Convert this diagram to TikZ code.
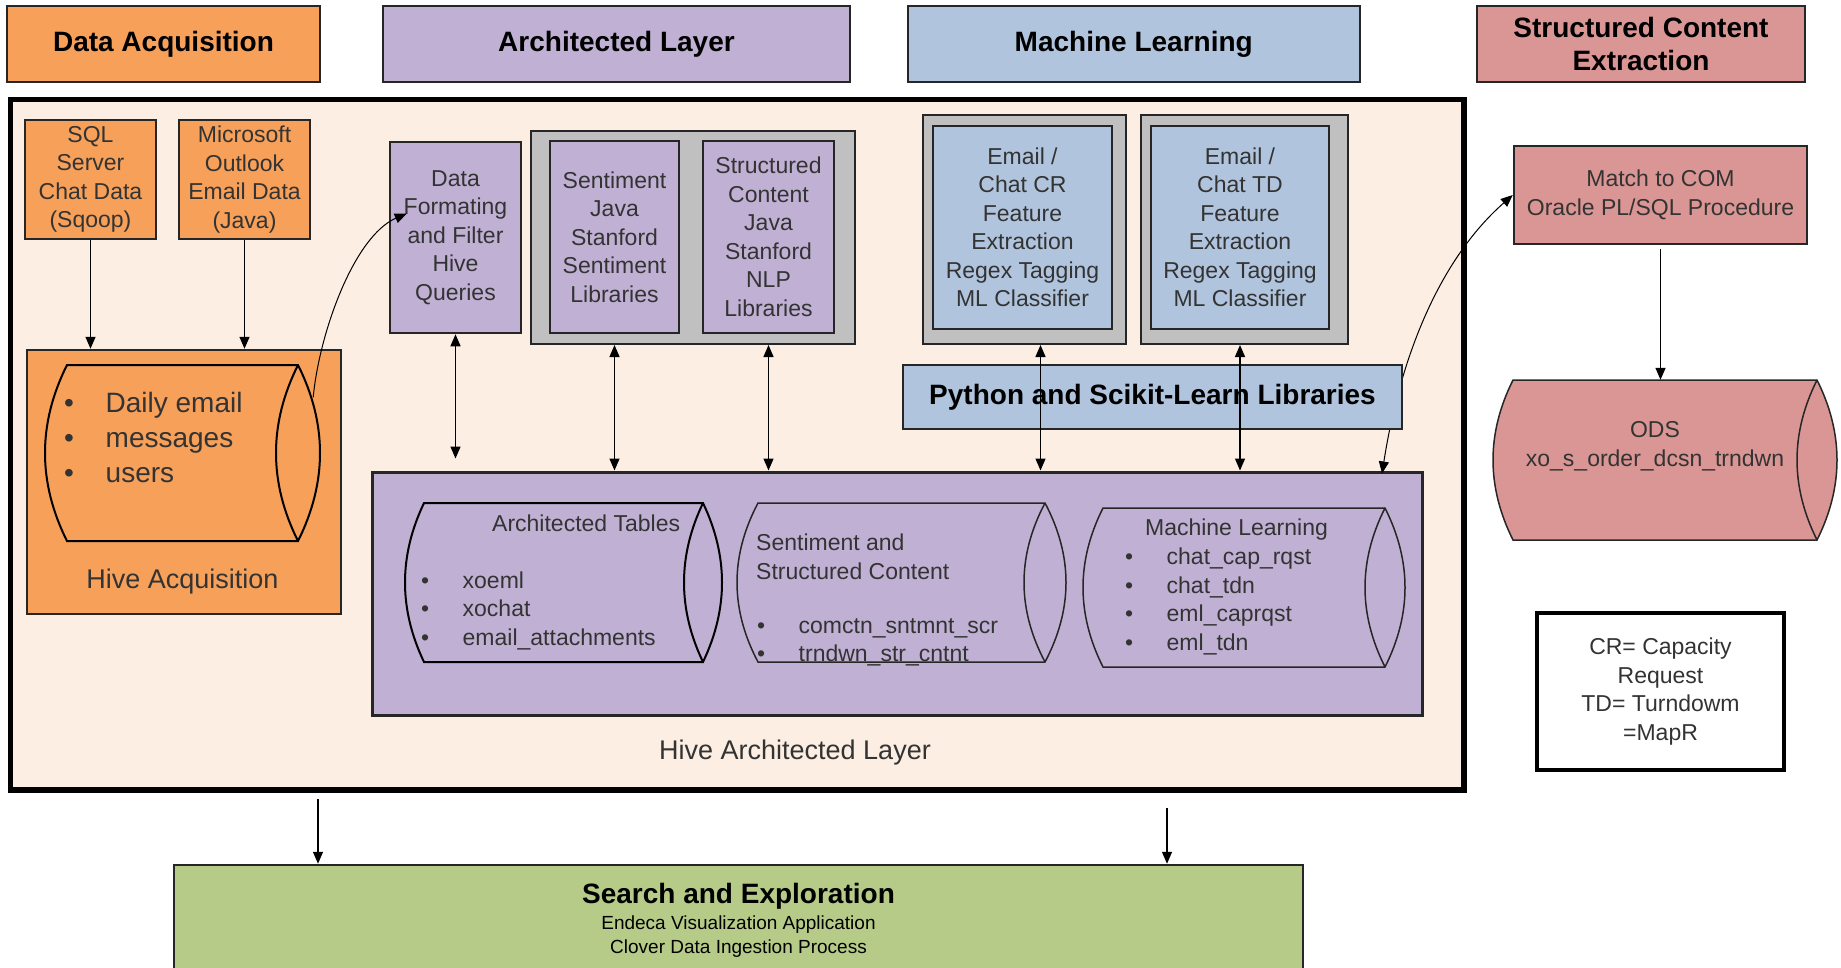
\documentclass[tikz,border=0pt]{standalone}
\usepackage{fontspec}
\setmainfont{Liberation Sans}
\usetikzlibrary{arrows.meta}

\definecolor{acqorange}{HTML}{F6A05A}
\definecolor{archpurple}{HTML}{C0B1D4}
\definecolor{mlblue}{HTML}{B1C4DD}
\definecolor{scered}{HTML}{DA9694}
\definecolor{searchgreen}{HTML}{B7CB88}
\definecolor{layerpeach}{HTML}{FDEEE3}
\definecolor{libgray}{HTML}{C0C0C0}

\newcommand{\itm}[1]{\makebox[41.5pt][l]{\textbullet}#1}

% storage drum: name, x, y, width, height, cap depth, options
\newcommand{\drum}[7]{%
  \node[shape = rectangle, inner sep = 0pt, minimum width = #4pt, minimum height = #5pt] (#1) at (#2, #3) {};
  \begin{scope}[shift = {(#2, #3)}, y = 1pt]
    \filldraw[#7] ({-#4/2+#6}, #5/2) -- ({#4/2-#6}, #5/2)
      .. controls ({#4/2+#6/3}, #5/6) and ({#4/2+#6/3}, -#5/6) .. ({#4/2-#6}, -#5/2)
      -- ({-#4/2+#6}, -#5/2)
      .. controls ({-#4/2-#6/3}, -#5/6) and ({-#4/2-#6/3}, #5/6) .. cycle;
    \draw[#7, fill = none] ({#4/2-#6}, #5/2)
      .. controls ({#4/2-7*#6/3}, #5/6) and ({#4/2-7*#6/3}, -#5/6) .. ({#4/2-#6}, -#5/2);
  \end{scope}}

\begin{document}
\begin{tikzpicture}[
    x = 1pt, y = -1pt,
    header/.style = {shape = rectangle, draw = black!85, line width = 2pt, inner sep = 0pt, font = \fontsize{28}{33}\selectfont\bfseries, align = center},
    box/.style = {shape = rectangle, draw = black!85, line width = 2.5pt, inner sep = 0pt, text = black!80, font = \fontsize{23}{28.5}\selectfont, align = center},
    group/.style = {shape = rectangle, draw = black!85, fill = libgray, line width = 2pt, inner sep = 0pt},
    txt/.style = {inner sep = 0pt, text = black!80, font = \fontsize{23}{28.5}\selectfont, align = left},
    arr/.style = {-{Triangle[width = 10pt, length = 12pt]}, line width = 1.4pt},
    darr/.style = {{Triangle[width = 10pt, length = 12pt]}-{Triangle[width = 10pt, length = 12pt]}, line width = 1.4pt},
    ]
    \useasboundingbox (0, 0) rectangle (1841, 967);

    % big platform frame
    \node[shape = rectangle, draw = black, fill = layerpeach, line width = 5.5pt, minimum width = 1453.5pt, minimum height = 690.5pt] (platform) at (737.25, 444.75) {};

    % column headers
    \node[header, fill = acqorange, minimum width = 313pt, minimum height = 76pt] (hdracq) at (163.5, 44) {Data Acquisition};
    \node[header, fill = archpurple, minimum width = 467pt, minimum height = 76pt] (hdrarch) at (616.5, 44) {Architected Layer};
    \node[header, fill = mlblue, minimum width = 451.5pt, minimum height = 76pt] (hdrml) at (1133.75, 44) {Machine Learning};
    \node[header, fill = scered, minimum width = 328pt, minimum height = 76pt] (hdrsce) at (1641, 44) {Structured Content\\Extraction};

    % acquisition
    \node[box, fill = acqorange, minimum width = 131pt, minimum height = 119pt] (sql) at (90.5, 179.5) {SQL\\Server\\Chat Data\\(Sqoop)};
    \node[box, fill = acqorange, minimum width = 131pt, minimum height = 119pt] (outlook) at (244.5, 179.5) {Microsoft\\Outlook\\Email Data\\(Java)};
    \node[box, fill = acqorange, minimum width = 314pt, minimum height = 264pt] (hiveacq) at (184, 482) {};
    \drum{hivecyl}{182.5}{453}{275}{176}{22}{draw = black, fill = acqorange, line width = 2pt}
    \node[txt, anchor = west, font = \fontsize{28}{35}\selectfont] (hivelist) at (64, 437.5) {\itm{Daily email}\\\itm{messages}\\\itm{users}};
    \node[txt, font = \fontsize{27}{32}\selectfont] (hiveacqlbl) at (182.5, 582) {Hive Acquisition};

    \path[arr] (sql.south) edge (sql.south |- hiveacq.north);
    \path[arr] (outlook.south) edge (outlook.south |- hiveacq.north);

    % architected layer libraries
    \node[box, fill = archpurple, minimum width = 131pt, minimum height = 191pt] (dataformat) at (455.5, 237.5) {Data\\Formating\\and Filter\\Hive\\Queries};
    \node[group, minimum width = 324pt, minimum height = 213pt] (nlpgrp) at (693, 237.5) {};
    \node[box, fill = archpurple, minimum width = 129pt, minimum height = 192pt] (sent) at (614.5, 237) {Sentiment\\Java\\Stanford\\Sentiment\\Libraries};
    \node[box, fill = archpurple, minimum width = 131pt, minimum height = 192pt] (struct) at (768.5, 237) {Structured\\Content\\Java\\Stanford\\NLP\\Libraries};

    % machine learning
    \node[group, minimum width = 203pt, minimum height = 229pt] (crgrp) at (1024.5, 229.5) {};
    \node[box, fill = mlblue, minimum width = 179pt, minimum height = 203pt] (cr) at (1022.5, 227.5) {Email /\\Chat CR\\Feature\\Extraction\\Regex Tagging\\ML Classifier};
    \node[group, minimum width = 207pt, minimum height = 229pt] (tdgrp) at (1244.5, 229.5) {};
    \node[box, fill = mlblue, minimum width = 178pt, minimum height = 203pt] (td) at (1240, 227.5) {Email /\\Chat TD\\Feature\\Extraction\\Regex Tagging\\ML Classifier};

    % hive architected tables
    \node[box, fill = archpurple, line width = 3pt, minimum width = 1050.5pt, minimum height = 243pt] (hivearch) at (897.25, 593.5) {};
    \drum{archtab}{563.5}{582.5}{317}{159}{19}{draw = black, fill = archpurple, line width = 2pt}
    \drum{sentcyl}{901.5}{582.5}{329}{159}{21}{draw = black!85, fill = archpurple, line width = 1.5pt}
    \drum{mlcyl}{1244}{587.5}{322}{159}{20}{draw = black!85, fill = archpurple, line width = 1.5pt}

    \node[txt, anchor = west] (archtitle) at (492, 523) {Architected Tables};
    \node[txt, anchor = west] (archlist) at (421, 610.5) {\itm{xoeml}\\\itm{xochat}\\\itm{email\_attachments}};
    \node[txt, anchor = west] (senttitle) at (756, 557) {Sentiment and\\Structured Content};
    \node[txt, anchor = west] (sentlist) at (757, 642.5) {\itm{comctn\_sntmnt\_scr}\\\itm{trndwn\_str\_cntnt}};
    \node[txt] (mltitle) at (1236.5, 530) {Machine Learning};
    \node[txt, anchor = west] (mllist) at (1125, 601.5) {\itm{chat\_cap\_rqst}\\\itm{chat\_tdn}\\\itm{eml\_caprqst}\\\itm{eml\_tdn}};
    \node[txt, font = \fontsize{27}{32}\selectfont] (hivearchlbl) at (795, 753) {Hive Architected Layer};

    % structured content extraction
    \node[box, fill = scered, minimum width = 293pt, minimum height = 98pt] (match) at (1660.5, 195) {Match to COM\\Oracle PL/SQL Procedure};
    \drum{ods}{1665}{460}{344}{160}{20}{draw = black!85, fill = scered, line width = 1.5pt}
    \node[txt, align = center] (odstxt) at (1655, 446) {ODS\\xo\_s\_order\_dcsn\_trndwn};
    \node[box, draw = black, fill = white, line width = 4pt, minimum width = 247pt, minimum height = 157pt] (legend) at (1660.5, 691.5) {CR= Capacity\\Request\\TD= Turndowm\\=MapR};

    \draw[darr, line width = 1pt] ([xshift = -42pt, yshift = -3pt]hivearch.north east) .. controls +(18, -115) and +(-74, 65) .. (match.west);
    \path[arr, shorten <= 4pt] (match.south) edge (match.south |- ods.north);

    \node[box, fill = mlblue, font = \fontsize{28}{33}\selectfont\bfseries, text = black, minimum width = 499pt, minimum height = 64pt] (python) at (1152.5, 397) {Python and Scikit-Learn Libraries};

    \draw[arr, line width = 1pt] ([xshift = -7pt]hivecyl.22) .. controls +(6, -64) and +(-53, 23) .. ([xshift = 18pt, yshift = 24pt]dataformat.west);

    \coordinate (crlink) at ([xshift = 16pt]crgrp.south);
    \path[darr, shorten > = 12pt] (dataformat.south) edge (dataformat.south |- hivearch.north);
    \path[darr] (sent.south |- nlpgrp.south) edge (sent.south |- hivearch.north);
    \path[darr] (struct.south |- nlpgrp.south) edge (struct.south |- hivearch.north);
    \path[darr] (crlink) edge (crlink |- hivearch.north);
    \path[darr] (td.south |- tdgrp.south) edge (td.south |- hivearch.north);

    % search and exploration
    \node[box, fill = searchgreen, text = black, font = \fontsize{19}{23.5}\selectfont, minimum width = 1129pt, minimum height = 110pt] (search) at (738.5, 920) {{\fontsize{28}{30}\selectfont\bfseries Search and Exploration}\\[3pt]Endeca Visualization Application\\Clover Data Ingestion Process};

    \coordinate (outa) at (318, 799);
    \coordinate (outb) at (1167, 808);
    \path[arr] (outa) edge (outa |- search.north);
    \path[arr] (outb) edge (outb |- search.north);
\end{tikzpicture}
\end{document}
